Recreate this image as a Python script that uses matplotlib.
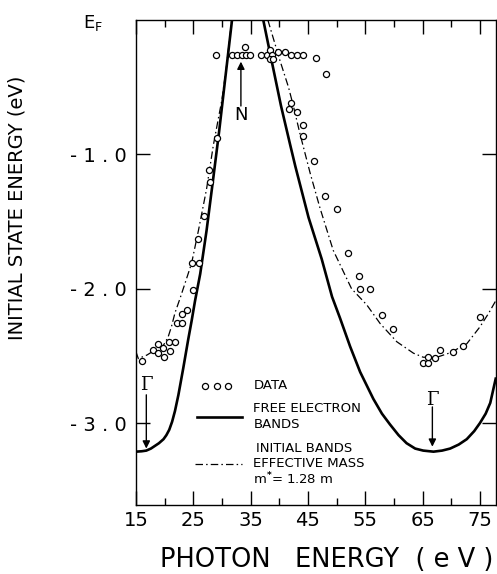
import matplotlib
matplotlib.use("Agg")
import matplotlib.pyplot as plt
import matplotlib.transforms as mtransforms

plt.rcParams['font.family'] = ['DejaVu Sans']

# ---------------- data ----------------
data_x = [16.0, 17.9, 18.9, 18.9, 19.76, 19.9, 20.76, 20.9, 21.8, 22.1, 22.97, 23.1,
          23.85, 25.0, 24.7, 26.0, 25.9, 26.9, 27.95, 27.75, 29.05, 29.0,
          31.7, 32.57, 33.45, 34.2, 34.9, 34.05,
          36.76, 37.81, 38.39, 38.68, 38.39, 38.96, 39.83, 41.0, 42.0, 43.05, 44.2, 46.4, 48.1,
          42.05, 41.75, 43.15, 44.1, 44.1, 46.1, 47.9, 50.0, 52.05, 53.9, 54.0, 55.8,
          58.0, 59.9, 65.0, 66.0, 66.0, 67.2, 68.1, 70.3, 72.0, 75.0]
data_y = [-2.537, -2.46, -2.41, -2.477, -2.44, -2.507, -2.40, -2.465, -2.40, -2.259, -2.259, -2.19,
          -2.155, -2.006, -1.81, -1.81, -1.63, -1.46, -1.206, -1.12, -0.878, -0.26,
          -0.259, -0.259, -0.259, -0.259, -0.259, -0.202,
          -0.259, -0.259, -0.222, -0.259, -0.289, -0.289, -0.239, -0.235, -0.259, -0.259, -0.259, -0.284, -0.405,
          -0.618, -0.66, -0.685, -0.784, -0.866, -1.052, -1.312, -1.41, -1.738, -1.907, -2.0, -2.0,
          -2.197, -2.30, -2.556, -2.556, -2.507, -2.514, -2.457, -2.474, -2.427, -2.214]

# free electron bands (solid)
fe1_x = [15.0, 16.0, 16.8, 17.6, 18.3, 19.0, 19.8, 20.3, 20.8, 21.3, 21.8, 22.4, 23.25, 24.1, 24.7,
         25.3, 26.2, 27.3, 28.5, 29.5, 30.5, 31.1, 31.75]
fe1_y = [-3.213, -3.21, -3.205, -3.19, -3.17, -3.15, -3.12, -3.09, -3.05, -2.99, -2.91, -2.79, -2.59,
         -2.38, -2.24, -2.09, -1.89, -1.57, -1.17, -0.83, -0.46, -0.24, 0.0]
fe2_x = [37.2, 38.4, 40.3, 41.9, 42.8, 45.1, 47.4, 49.2, 50.6, 52.35, 54.1, 56.4, 57.9, 59.3, 60.8,
         62.2, 63.7, 65.1, 66.9, 68.4, 69.8, 71.3, 72.7, 74.0, 75.0, 76.0, 76.8, 77.8]
fe2_y = [0.0, -0.25, -0.64, -0.93, -1.09, -1.47, -1.78, -2.06, -2.22, -2.43, -2.62, -2.82, -2.93, -3.01,
         -3.09, -3.15, -3.19, -3.205, -3.213, -3.205, -3.19, -3.16, -3.12, -3.06, -3.0, -2.93, -2.85, -2.66]

# effective mass bands (dash-dot)
em1_x = [15.0, 15.4, 16.9, 18.3, 19.8, 20.6, 21.2, 21.8, 22.7, 23.55, 24.7, 25.9, 27.3, 28.5,
         30.0, 30.8, 31.7]
em1_y = [-2.47, -2.52, -2.494, -2.457, -2.42, -2.36, -2.28, -2.18, -2.07, -1.96, -1.81, -1.565, -1.26,
         -0.93, -0.59, -0.34, 0.0]
em2_x = [38.0, 40.1, 41.6, 42.45, 43.6, 45.4, 47.1, 49.4, 52.6, 55.25, 57.6, 60.5, 63.4, 65.1,
         67.5, 69.8, 72.7, 75.0, 76.5, 77.8]
em2_y = [0.0, -0.30, -0.50, -0.64, -0.846, -1.143, -1.40, -1.714, -2.0, -2.12, -2.26, -2.395, -2.48,
         -2.51, -2.51, -2.477, -2.41, -2.284, -2.184, -2.086]

x_major = [15, 25, 35, 45, 55, 65, 75]
x_minor = [20, 30, 40, 50, 60, 70]
x_labels = ['15', '25', '35', '45', '55', '65', '75']
y_ticks = [-1.0, -2.0, -3.0]
y_labels = ['- 1 . 0', '- 2 . 0', '- 3 . 0']

# ---------------- figure ----------------
W, H = 497, 574
fig = plt.figure(figsize=(W / 100, H / 100), dpi=100)
ax = fig.add_axes([136 / W, 1 - 505 / H, 360 / W, 485 / H])
ax.set_xlim(15, 77.8)
ax.set_ylim(-3.61, 0.0)

for s in ax.spines.values():
    s.set_linewidth(1.0)

dash_dot = (0, (6, 2.5, 1.2, 2.5))
ax.plot(fe1_x, fe1_y, color='black', lw=1.9, solid_capstyle='butt', solid_joinstyle='round')
ax.plot(fe2_x, fe2_y, color='black', lw=1.9, solid_capstyle='butt', solid_joinstyle='round')
ax.plot(em1_x, em1_y, color='black', lw=0.9, linestyle=dash_dot)
ax.plot(em2_x, em2_y, color='black', lw=0.9, linestyle=dash_dot)
ax.plot(data_x, data_y, linestyle='none', marker='o', markersize=4.4,
        markerfacecolor='white', markeredgecolor='black', markeredgewidth=0.9, clip_on=False)

ax.set_xticks(x_major)
ax.set_xticklabels(x_labels)
ax.set_xticks(x_minor, minor=True)
ax.set_yticks(y_ticks)
ax.set_yticklabels(y_labels)
ax.tick_params(axis='x', which='major', direction='in', length=10, width=1.0,
               top=True, bottom=True, labelsize=14, pad=4)
ax.tick_params(axis='x', which='minor', direction='in', length=5, width=1.0,
               top=True, bottom=True)
ax.tick_params(axis='y', which='major', direction='in', length=10, width=1.0,
               left=True, right=True, labelsize=14, pad=7)

# E_F label at the top of the energy axis
trans = mtransforms.blended_transform_factory(ax.transAxes, ax.transData)
ax.text(-0.12, -0.02, r'E$_{\mathregular{F}}$', transform=trans, ha='center', va='center', fontsize=13)

# annotations
ax.annotate('', xy=(16.8, -3.19), xytext=(16.8, -2.79),
            arrowprops=dict(arrowstyle='-|>', lw=1.0, color='black', mutation_scale=11, shrinkA=0, shrinkB=0))
ax.text(16.8, -2.72, 'Γ', family='DejaVu Serif', fontsize=13, ha='center', va='center')
ax.annotate('', xy=(66.7, -3.176), xytext=(66.7, -2.88),
            arrowprops=dict(arrowstyle='-|>', lw=1.0, color='black', mutation_scale=11, shrinkA=0, shrinkB=0))
ax.text(66.7, -2.83, 'Γ', family='DejaVu Serif', fontsize=13, ha='center', va='center')
ax.annotate('', xy=(33.3, -0.31), xytext=(33.3, -0.64),
            arrowprops=dict(arrowstyle='-|>', lw=1.0, color='black', mutation_scale=11, shrinkA=0, shrinkB=0))
ax.text(33.3, -0.71, 'N', fontsize=13, ha='center', va='center')

# legend (drawn by hand in axes coordinates)
ta = ax.transAxes
ax.plot([0.1917, 0.224, 0.256], [0.2454] * 3, transform=ta, linestyle='none', marker='o',
        markersize=4.4, markerfacecolor='white', markeredgecolor='black', markeredgewidth=0.9)
ax.plot([0.1686, 0.2936], [0.182, 0.182], transform=ta, color='black', lw=1.9)
ax.plot([0.164, 0.2936], [0.0839, 0.0839], transform=ta, color='black', lw=0.9,
        linestyle=(0, (6, 2.5, 1.2, 2.5)))
lx = 0.326
fs = 9.5
ax.text(lx, 0.2454, 'DATA', transform=ta, fontsize=fs, va='center', ha='left')
ax.text(lx, 0.1984, 'FREE ELECTRON', transform=ta, fontsize=fs, va='center', ha='left')
ax.text(lx, 0.1664, 'BANDS', transform=ta, fontsize=fs, va='center', ha='left')
ax.text(lx + 0.008, 0.1155, 'INITIAL BANDS', transform=ta, fontsize=fs, va='center', ha='left')
ax.text(lx, 0.086, 'EFFECTIVE MASS', transform=ta, fontsize=fs, va='center', ha='left')
ax.text(lx, 0.053, r'm$^{\mathbf{*}}$= 1.28 m', transform=ta, fontsize=fs, va='center', ha='left')

# axis titles
fig.text(327 / W, 1 - 560 / H, 'PHOTON   ENERGY  ( e V )', fontsize=18.5, ha='center', va='center')
fig.text(17 / W, 1 - 208 / H, 'INITIAL STATE ENERGY (eV)', fontsize=14, ha='center', va='center',
         rotation=90)

fig.savefig('out.png', dpi=100)
